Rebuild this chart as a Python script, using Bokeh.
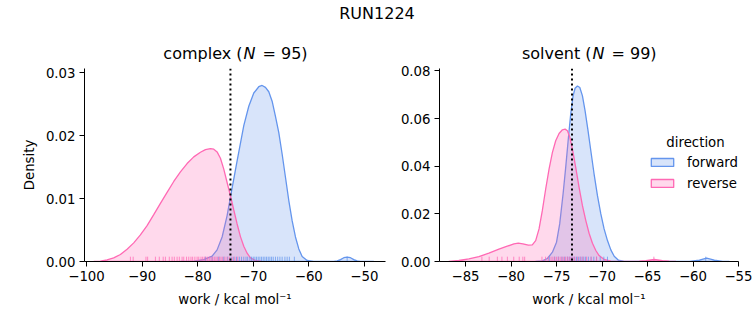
from bokeh.plotting import figure
from bokeh.layouts import column, row
from bokeh.models import (Range1d, FixedTicker, Span, Label, Legend, LegendItem,
                          PrintfTickFormatter)
from bokeh.embed import file_html
from bokeh.resources import INLINE
from bokeh.core.properties import value

# ---------------- data ----------------
suptitle = "RUN1224"

# complex panel
complex_fwd_x = [-83.1, -80.7, -78.9, -77.4, -76.5, -75.6, -74.7, -74.0, -72.9, -71.7, -70.8,
                 -69.9, -69.0, -68.4, -67.8, -67.2, -66.6, -66.0, -65.4, -64.8, -64.2, -63.6,
                 -63.0, -62.4, -61.8, -61.2, -60.3, -59.1, -55.5, -54.9, -54.3, -53.7, -53.1,
                 -52.5, -51.9, -51.3, -50.7, -48.3]
complex_fwd_d = [0.0, 0.00005, 0.0003, 0.00085, 0.00185, 0.0039, 0.0073, 0.0107, 0.0160, 0.0216,
                 0.0247, 0.0268, 0.0278, 0.0280, 0.0277, 0.0270, 0.0255, 0.0231, 0.0205, 0.0171,
                 0.0134, 0.0097, 0.0065, 0.0039, 0.0020, 0.0008, 0.00016, 0.0, 0.0, 0.0001,
                 0.0003, 0.0006, 0.0007, 0.0006, 0.0003, 0.0001, 0.0, 0.0]
complex_rev_x = [-98.7, -97.5, -96.3, -95.1, -93.9, -92.7, -91.5, -90.3, -89.1, -87.9, -86.7,
                 -85.5, -84.3, -83.1, -81.9, -80.7, -79.5, -78.6, -77.7, -77.1, -76.5, -75.9,
                 -75.3, -74.7, -74.1, -73.5, -72.9, -72.3, -71.7, -71.1, -70.5, -69.6, -68.4]
complex_rev_d = [0.0, 0.00005, 0.00026, 0.00058, 0.00111, 0.00195, 0.00296, 0.00423, 0.00571,
                 0.00745, 0.00924, 0.01099, 0.01273, 0.01426, 0.01558, 0.01664, 0.01738, 0.0178,
                 0.01796, 0.01786, 0.01743, 0.01643, 0.01469, 0.01257, 0.01046, 0.00819,
                 0.00597, 0.00396, 0.00243, 0.00132, 0.00058, 0.00016, 0.0]
complex_rug_fwd = [-78.6, -77.4, -76.2, -75.3, -74.6, -74.0, -73.5, -73.0, -72.5, -72.1, -71.7,
                   -71.3, -71.0, -70.6, -70.3, -70.0, -69.7, -69.4, -69.1, -68.8, -68.5, -68.2,
                   -67.9, -67.6, -67.3, -67.0, -66.7, -66.4, -66.0, -65.6, -65.2, -64.8, -64.3,
                   -63.9, -63.5, -62.6, -53.1]
complex_rug_rev = [-92.1, -91.6, -89.3, -89.0, -87.6, -86.9, -86.2, -85.8, -85.1, -84.6, -84.2,
                   -83.7, -83.3, -82.8, -82.5, -82.0, -81.6, -81.2, -80.9, -80.5, -80.1, -79.8,
                   -79.4, -79.1, -78.8, -78.5, -78.2, -77.9, -77.6, -77.3, -77.0, -76.7, -76.4,
                   -76.1, -75.8, -75.5, -75.1, -74.7, -74.3, -73.8, -73.3, -72.8]
complex_vline = -74.1

# solvent panel
solvent_fwd_x = [-77.3, -76.56, -76.0, -75.45, -75.0, -74.65, -74.28, -73.99, -73.69, -73.44,
                 -73.18, -72.96, -72.70, -72.44, -72.15, -71.86, -71.56, -71.23, -70.87, -70.5,
                 -70.13, -69.77, -69.4, -69.03, -68.66, -68.19, -67.56, -60.4, -59.3, -58.5,
                 -57.65, -56.73, -56.0]
solvent_fwd_d = [0.0, 0.00028, 0.00126, 0.00391, 0.0081, 0.01577, 0.02833, 0.0395, 0.05206,
                 0.06183, 0.0695, 0.07272, 0.07369, 0.0730, 0.0695, 0.06322, 0.05555, 0.04648,
                 0.03671, 0.02763, 0.01996, 0.01368, 0.00879, 0.00488, 0.00223, 0.00056, 0.0,
                 0.0, 0.00056, 0.0014, 0.00056, 0.0, 0.0]
solvent_rev_x = [-86.84, -85.73, -84.63, -83.53, -82.43, -81.33, -80.41, -79.68, -79.2, -78.69,
                 -78.1, -77.66, -77.29, -76.92, -76.56, -76.19, -75.82, -75.45, -75.09, -74.72,
                 -74.35, -74.06, -73.8, -73.55, -73.25, -72.89, -72.52, -72.15, -71.78, -71.42,
                 -71.05, -70.68, -70.32, -69.77, -69.03, -67.75, -65.91, -65.18, -64.26, -63.34,
                 -62.61, -61.87]
solvent_rev_d = [0.0, 0.00042, 0.00112, 0.00209, 0.00349, 0.00516, 0.00642, 0.0074, 0.00768,
                 0.0074, 0.00684, 0.00698, 0.00879, 0.01368, 0.02135, 0.03043, 0.0388, 0.04578,
                 0.05066, 0.05373, 0.05527, 0.05555, 0.05485, 0.05234, 0.04717, 0.0395, 0.03112,
                 0.02345, 0.01717, 0.01186, 0.00768, 0.00461, 0.00251, 0.00084, 0.00014, 0.0,
                 0.00014, 0.0004, 0.00084, 0.0004, 0.00014, 0.0]
solvent_rug_fwd = [-75.8, -75.2, -74.8, -74.4, -74.1, -73.8, -73.6, -73.4, -73.2, -73.0, -72.8,
                   -72.6, -72.4, -72.2, -72.0, -71.8, -71.5, -71.2, -70.9, -70.6, -70.2, -69.8,
                   -69.4, -58.6]
solvent_rug_rev = [-83.2, -82.4, -81.5, -81.0, -80.4, -79.7, -79.1, -78.7, -78.5, -76.6, -76.2,
                   -75.9, -75.6, -75.4, -75.2, -75.0, -74.8, -74.6, -74.4, -74.2, -74.0, -73.8,
                   -73.6, -73.4, -73.2, -73.0, -72.7, -72.4, -72.1, -71.7, -71.2, -70.6, -64.3]
solvent_vline = -73.3

complex_xticks = [-100, -90, -80, -70, -60, -50]
complex_yticks = [0.0, 0.01, 0.02, 0.03]
solvent_xticks = [-85, -80, -75, -70, -65, -60, -55]
solvent_yticks = [0.0, 0.02, 0.04, 0.06, 0.08]

panel_titles = [("complex (", "N", "= 95)"), ("solvent (", "N", "= 99)")]
legend_title = "direction"
legend_labels = ["forward", "reverse"]
xlabel = "work / kcal mol\u207b\u00b9"
ylabel = "Density"

# ---------------- style ----------------
FONT = "DejaVu Sans"
FWD = "#6495ED"
REV = "#FF69B4"
TICK_FS = "13.3px"
TITLE_FS = "16px"
STRIP_H = 64
FIG_H = 325 - STRIP_H
TOP_B = 68 - STRIP_H


def minus(v):
    return f"{v:g}".replace("-", "\u2212")


def panel(width, bl, br, xr, ymax, xticks, yticks,
          fx, fd, rx, rd, rug_f, rug_r, vline, with_ylabel):
    p = figure(width=width, height=FIG_H, x_range=Range1d(*xr), y_range=Range1d(0, ymax),
               output_backend="svg", toolbar_location=None,
               min_border_left=bl, min_border_right=br, min_border_top=TOP_B,
               min_border_bottom=64)
    p.grid.visible = False
    p.outline_line_color = None

    rf = p.patch(fx, fd, fill_color=FWD, fill_alpha=0.25, line_color=FWD, line_width=1.3)
    rr = p.patch(rx, rd, fill_color=REV, fill_alpha=0.25, line_color=REV, line_width=1.3)

    rug_h = 0.025 * ymax
    p.segment(x0=rug_f, y0=0, x1=rug_f, y1=rug_h, line_color=FWD, line_width=1, line_alpha=0.75)
    p.segment(x0=rug_r, y0=0, x1=rug_r, y1=rug_h, line_color=REV, line_width=1, line_alpha=0.75)

    p.add_layout(Span(location=vline, dimension="height", line_color="black",
                      line_width=2, line_dash="2 3"))

    for ax in (p.xaxis[0], p.yaxis[0]):
        ax.axis_line_color = "black"
        ax.axis_line_width = 1
        ax.major_tick_line_color = "black"
        ax.major_tick_out = 5
        ax.major_tick_in = 0
        ax.minor_tick_line_color = None
        ax.major_label_text_font = FONT
        ax.major_label_text_font_size = TICK_FS
        ax.major_label_text_color = "black"
        ax.major_label_standoff = 4
        ax.axis_label_text_font = FONT
        ax.axis_label_text_font_size = TICK_FS
        ax.axis_label_text_font_style = "normal"
        ax.axis_label_text_color = "black"
    p.xaxis.ticker = FixedTicker(ticks=xticks)
    p.xaxis.major_label_overrides = {t: minus(t) for t in xticks}
    p.yaxis.ticker = FixedTicker(ticks=yticks)
    p.yaxis.formatter = PrintfTickFormatter(format="%.2f")
    p.xaxis.axis_label = xlabel
    p.xaxis.axis_label_standoff = 8
    if with_ylabel:
        p.yaxis.axis_label = ylabel
        p.yaxis.axis_label_standoff = 6
    return p, rf, rr


p1, _, _ = panel(395, 84, 10, (-100.36, -46.2), 0.0307, complex_xticks, complex_yticks,
                 complex_fwd_x, complex_fwd_d, complex_rev_x, complex_rev_d,
                 complex_rug_fwd, complex_rug_rev, complex_vline, True)

p2, rf2, rr2 = panel(358, 44, 15, (-87.86, -55.0), 0.081, solvent_xticks, solvent_yticks,
                     solvent_fwd_x, solvent_fwd_d, solvent_rev_x, solvent_rev_d,
                     solvent_rug_fwd, solvent_rug_rev, solvent_vline, False)

leg = Legend(items=[LegendItem(label=legend_labels[0], renderers=[rf2]),
                    LegendItem(label=legend_labels[1], renderers=[rr2])],
             location=(209, 69.7), padding=0, margin=0, spacing=5,
             glyph_width=28, glyph_height=10, label_height=16, label_standoff=11,
             label_text_font=FONT, label_text_font_size=TICK_FS, label_text_color="black",
             border_line_color=None, background_fill_alpha=0)
p2.add_layout(leg)
p2.add_layout(Label(x=256, y=119, x_units="screen", y_units="screen", text=legend_title,
                    text_align="center", text_baseline="middle", text_font=FONT,
                    text_font_size=TICK_FS, text_color="black"))

# title strip: suptitle and the two panel titles (strip coordinates are pixels)
t = figure(width=753, height=STRIP_H, x_range=Range1d(0, 753), y_range=Range1d(0, STRIP_H),
           output_backend="svg", toolbar_location=None, min_border=0,
           x_axis_type=None, y_axis_type=None)
t.outline_line_color = None
t.text(x=[376.5], y=[STRIP_H - 13], text=[suptitle], text_align="center",
       text_baseline="middle", text_font=value(FONT), text_font_size=TITLE_FS, text_color="black")

for (pre, nn, suf), cx in zip(panel_titles, [249.0, 598.0]):
    ty = STRIP_H - 53
    kw = dict(text_baseline="middle", text_font=value(FONT), text_font_size=TITLE_FS,
              text_color="black")
    t.text(x=[cx - 7], y=[ty], text=[pre], text_align="right", **kw)
    t.text(x=[cx], y=[ty], text=[nn], text_align="center", text_font_style="italic", **kw)
    t.text(x=[cx + 13], y=[ty], text=[suf], text_align="left", **kw)

layout = column(t, row(p1, p2))
open("out.html", "w").write(file_html(layout, INLINE))
